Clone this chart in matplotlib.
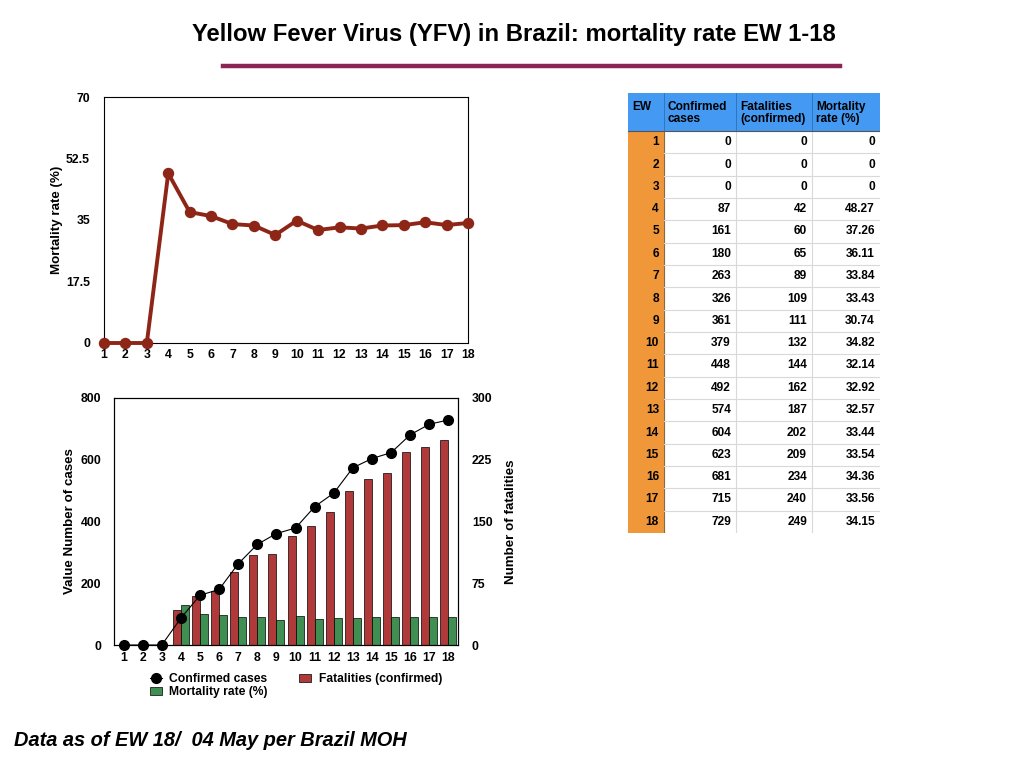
import matplotlib

matplotlib.use("Agg")
import matplotlib.pyplot as plt
import numpy as np
from matplotlib.patches import Rectangle
from matplotlib.lines import Line2D

plt.rcParams["font.family"] = ["Liberation Sans", "DejaVu Sans"]
plt.rcParams["font.weight"] = "bold"

WEEKS = list(range(1, 19))
CONFIRMED = [0, 0, 0, 87, 161, 180, 263, 326, 361, 379, 448, 492, 574, 604, 623, 681, 715, 729]
FATALITIES = [0, 0, 0, 42, 60, 65, 89, 109, 111, 132, 144, 162, 187, 202, 209, 234, 240, 249]
MORTALITY = [0, 0, 0, 48.27, 37.26, 36.11, 33.84, 33.43, 30.74, 34.82, 32.14, 32.92,
             32.57, 33.44, 33.54, 34.36, 33.56, 34.15]
MORTALITY_TXT = ["0", "0", "0", "48.27", "37.26", "36.11", "33.84", "33.43", "30.74",
                 "34.82", "32.14", "32.92", "32.57", "33.44", "33.54", "34.36", "33.56", "34.15"]
HEADERS = ["EW", "Confirmed\ncases", "Fatalities\n(confirmed)", "Mortality\nrate (%)"]

W, H = 1024, 768
fig = plt.figure(figsize=(W / 100, H / 100), dpi=100)
fig.patch.set_facecolor("white")


def px_axes(left, top, right, bottom):
    return fig.add_axes([left / W, 1 - bottom / H, (right - left) / W, (bottom - top) / H])


# title and rule
fig.text(514 / W, 1 - 34 / H, "Yellow Fever Virus (YFV) in Brazil: mortality rate EW 1-18",
         ha="center", va="center", fontsize=17.2, fontweight="bold")
fig.add_artist(Line2D([223 / W, 840 / W], [1 - 66 / H, 1 - 66 / H], color="#8B2554", lw=3.2))
fig.text(14 / W, 1 - 741 / H, "Data as of EW 18/  04 May per Brazil MOH",
         ha="left", va="center", fontsize=14.4, fontweight="bold", style="italic")

# top chart: mortality rate line
ax1 = px_axes(104, 97, 468, 343)
ax1.plot(WEEKS, MORTALITY, color="#8E2617", lw=2.8, marker="o", ms=7.2, clip_on=False, zorder=3)
ax1.set_xlim(1, 18)
ax1.set_ylim(0, 70)
ax1.set_xticks(WEEKS)
ax1.set_yticks([0, 17.5, 35, 52.5, 70])
ax1.set_yticklabels(["0", "17.5", "35", "52.5", "70"])
ax1.tick_params(length=0, labelsize=8.8)
ax1.tick_params(axis="y", pad=10)
ax1.tick_params(axis="x", pad=4)
ax1.set_ylabel("Mortality rate (%)", fontsize=9.6, fontweight="bold")
ax1.yaxis.set_label_coords(-0.113, 0.5)
for s in ax1.spines.values():
    s.set_linewidth(0.8)

# bottom chart: cases line + bars
ax2 = px_axes(114, 398, 458, 645)
ax3 = ax2.twinx()
x = np.array(WEEKS)
bw = 0.42
ax3.bar(x - 0.21, FATALITIES, width=bw, color="#B03A3A", edgecolor="black", lw=0.5,
        label="Fatalities (confirmed)")
ax3.bar(x + 0.21, MORTALITY, width=bw, color="#3F8F52", edgecolor="black", lw=0.5,
        label="Mortality rate (%)")
ax3.set_ylim(0, 300)
ax3.set_yticks([0, 75, 150, 225, 300])
ax3.tick_params(length=0, labelsize=8.8, pad=10)
ax3.set_ylabel("Number of fatalities", fontsize=9.6, fontweight="bold")
ax3.yaxis.set_label_coords(1.137, 0.5)

ax2.set_zorder(ax3.get_zorder() + 1)
ax2.patch.set_visible(False)
ax2.plot(x, CONFIRMED, color="black", lw=0.8, marker="o", ms=7, label="Confirmed cases",
         clip_on=False)
ax2.set_xlim(0.5, 18.5)
ax2.set_ylim(0, 800)
ax2.set_xticks(WEEKS)
ax2.set_yticks([0, 200, 400, 600, 800])
ax2.tick_params(length=0, labelsize=8.8)
ax2.tick_params(axis="y", pad=9)
ax2.tick_params(axis="x", pad=5)
ax2.set_ylabel("Value Number of cases", fontsize=9.6, fontweight="bold")
ax2.yaxis.set_label_coords(-0.110, 0.5)
for a in (ax2, ax3):
    for s in a.spines.values():
        s.set_linewidth(0.8)

h2, l2 = ax2.get_legend_handles_labels()
h3, l3 = ax3.get_legend_handles_labels()
fig.legend([h2[0], h3[1], h3[0]], [l2[0], l3[1], l3[0]], ncol=2, frameon=False,
           loc="upper left", bbox_to_anchor=(150 / W, 1 - 673 / H), fontsize=8.7,
           handlelength=1.0, handletextpad=0.6, columnspacing=2.6, labelspacing=0.1,
           borderpad=0, borderaxespad=0)

# table
axt = px_axes(628, 93, 880, 533)
axt.set_xlim(0, 252)
axt.set_ylim(440, 0)
axt.axis("off")
col_edges = [0, 36, 108, 184, 252]
head_h = 38
row_h = (440 - head_h) / len(WEEKS)

axt.add_patch(Rectangle((0, 0), 252, head_h, color="#4499F2", lw=0))
axt.add_patch(Rectangle((0, head_h), 36, 440 - head_h, color="#F0973A", lw=0))
for i, txt in enumerate(HEADERS):
    axt.text(col_edges[i] + 4, 8, txt, ha="left", va="top", fontsize=8.6, fontweight="bold",
             linespacing=1.0)
for c in col_edges[1:-1]:
    axt.plot([c, c], [0, head_h], color="#2F6FB0", lw=0.6)
    axt.plot([c, c], [head_h, 440], color="#D9D9D9", lw=0.8)
axt.plot([36, 36], [head_h, 440], color="#8A6A40", lw=0.8)
axt.plot([0, 252], [head_h, head_h], color="#555555", lw=0.8)
for r in range(len(WEEKS)):
    y0 = head_h + r * row_h
    yc = y0 + row_h / 2
    if r > 0:
        axt.plot([36, 252], [y0, y0], color="#D9D9D9", lw=0.8)
    cells = [str(WEEKS[r]), str(CONFIRMED[r]), str(FATALITIES[r]), MORTALITY_TXT[r]]
    for i, txt in enumerate(cells):
        axt.text(col_edges[i + 1] - 5, yc, txt, ha="right", va="center", fontsize=8.6,
                 fontweight="bold")

fig.savefig("out.png", dpi=100, facecolor="white")
